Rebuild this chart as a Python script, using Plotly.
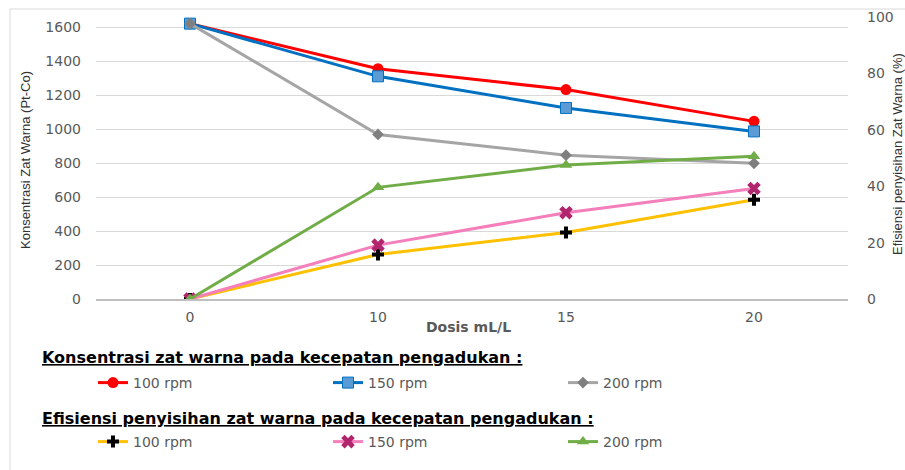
import plotly.graph_objects as go

# Dose categories (mL/L)
dosis = ["0", "10", "15", "20"]

# Dye concentration (Pt-Co) at each stirring speed
konsentrasi_100 = [1620, 1355, 1232, 1045]
konsentrasi_150 = [1620, 1310, 1124, 986]
konsentrasi_200 = [1620, 968, 846, 798]

# Dye removal efficiency (%) at each stirring speed
efisiensi_100 = [0, 15.8, 23.6, 35.2]
efisiensi_150 = [0, 19.1, 30.6, 39.2]
efisiensi_200 = [0, 39.6, 47.5, 50.6]

left_ticks = [0, 200, 400, 600, 800, 1000, 1200, 1400, 1600]
right_ticks = [0, 20, 40, 60, 80, 100]

W, H = 905, 470
ML, MR, MT, MB = 96, 57, 17, 171
PW, PH = W - ML - MR, H - MT - MB


def px_x(px):
    return (px - ML) / PW


def px_y(py):
    return (H - MB - py) / PH


TICK_FONT = dict(family="DejaVu Sans", size=14, color="#595959")
LEG_FONT = dict(family="DejaVu Sans", size=14, color="#595959")
AX_TITLE_FONT = dict(family="Liberation Sans, sans-serif", size=13, color="#333333")

fig = go.Figure()

fig.add_trace(go.Scatter(
    x=dosis, y=konsentrasi_100, name="100 rpm", legend="legend", yaxis="y",
    mode="lines+markers", line=dict(color="#ff0000", width=3),
    marker=dict(symbol="circle", size=11, color="#ff0000")))
fig.add_trace(go.Scatter(
    x=dosis, y=konsentrasi_150, name="150 rpm", legend="legend", yaxis="y",
    mode="lines+markers", line=dict(color="#0070c0", width=3),
    marker=dict(symbol="square", size=11, color="#5b9bd5", line=dict(color="#0070c0", width=1))))
fig.add_trace(go.Scatter(
    x=dosis, y=konsentrasi_200, name="200 rpm", legend="legend", yaxis="y",
    mode="lines+markers", line=dict(color="#a5a5a5", width=3),
    marker=dict(symbol="diamond", size=9, color="#7f7f7f")))

fig.add_trace(go.Scatter(
    x=dosis, y=efisiensi_100, name="100 rpm", legend="legend2", yaxis="y2",
    mode="lines+markers", line=dict(color="#ffc000", width=3),
    marker=dict(symbol="cross", size=10, color="#000000")))
fig.add_trace(go.Scatter(
    x=dosis, y=efisiensi_150, name="150 rpm", legend="legend2", yaxis="y2",
    mode="lines+markers", line=dict(color="#f47fba", width=3),
    marker=dict(symbol="x", size=12, color="#b0256e")))
fig.add_trace(go.Scatter(
    x=dosis, y=efisiensi_200, name="200 rpm", legend="legend2", yaxis="y2",
    mode="lines+markers", line=dict(color="#70ad47", width=3),
    marker=dict(symbol="triangle-up", size=11, color="#70ad47")))

legend_common = dict(
    orientation="h", xanchor="left", yanchor="middle",
    entrywidth=190, entrywidthmode="pixels",
    font=LEG_FONT, bgcolor="rgba(0,0,0,0)", borderwidth=0,
    itemclick=False, itemdoubleclick=False,
)

fig.update_layout(
    width=W, height=H,
    margin=dict(l=ML, r=MR, t=MT, b=MB, autoexpand=False),
    paper_bgcolor="white", plot_bgcolor="white",
    showlegend=True,
    xaxis=dict(
        type="category", categoryorder="array", categoryarray=dosis,
        range=[-0.5, 3.5], showgrid=False, zeroline=False,
        showline=True, linecolor="#bfbfbf", linewidth=2,
        tickfont=TICK_FONT, ticks="", ticklabelstandoff=4,
        fixedrange=True,
    ),
    yaxis=dict(
        range=[0, 1659], tickvals=left_ticks, showgrid=True,
        gridcolor="#d9d9d9", gridwidth=1, zeroline=False, showline=False,
        tickfont=TICK_FONT, ticks="", ticklabelstandoff=14,
        fixedrange=True,
    ),
    yaxis2=dict(
        range=[0, 100], tickvals=right_ticks, overlaying="y", side="right",
        showgrid=False, zeroline=False, showline=False,
        tickfont=TICK_FONT, ticks="", ticklabelstandoff=18,
        fixedrange=True,
    ),
    legend=dict(x=px_x(93), y=px_y(383), **legend_common),
    legend2=dict(x=px_x(93), y=px_y(442), **legend_common),
)

# Axis titles
fig.add_annotation(
    text="<b>Dosis mL/L</b>", xref="paper", yref="paper",
    x=px_x(468), y=px_y(327), xanchor="center", yanchor="middle",
    showarrow=False, font=dict(family="DejaVu Sans", size=14, color="#595959"))
fig.add_annotation(
    text="Konsentrasi Zat Warna (Pt-Co)", textangle=-90,
    xref="paper", yref="paper", x=px_x(25), y=px_y(160),
    xanchor="center", yanchor="middle", showarrow=False, font=AX_TITLE_FONT)
fig.add_annotation(
    text="Efisiensi penyisihan Zat Warna (%)", textangle=-90,
    xref="paper", yref="paper", x=px_x(897), y=px_y(154),
    xanchor="center", yanchor="middle", showarrow=False, font=AX_TITLE_FONT)

# Legend group headings
HEAD_FONT = dict(family="DejaVu Sans", size=16, color="#000000")
fig.add_annotation(
    text="<b><u>Konsentrasi zat warna pada kecepatan pengadukan :</u></b>",
    xref="paper", yref="paper", x=px_x(40), y=px_y(357),
    xanchor="left", yanchor="middle", showarrow=False, font=HEAD_FONT)
fig.add_annotation(
    text="<b><u>Efisiensi penyisihan zat warna pada kecepatan pengadukan :</u></b>",
    xref="paper", yref="paper", x=px_x(40), y=px_y(418),
    xanchor="left", yanchor="middle", showarrow=False, font=HEAD_FONT)

# Chart frame
fig.add_shape(
    type="rect", xref="paper", yref="paper",
    x0=px_x(10), x1=px_x(912), y0=px_y(478), y1=px_y(9),
    line=dict(color="#d9d9d9", width=1), fillcolor="rgba(0,0,0,0)", layer="below")

fig.write_html("out.html", config={"displayModeBar": False})
